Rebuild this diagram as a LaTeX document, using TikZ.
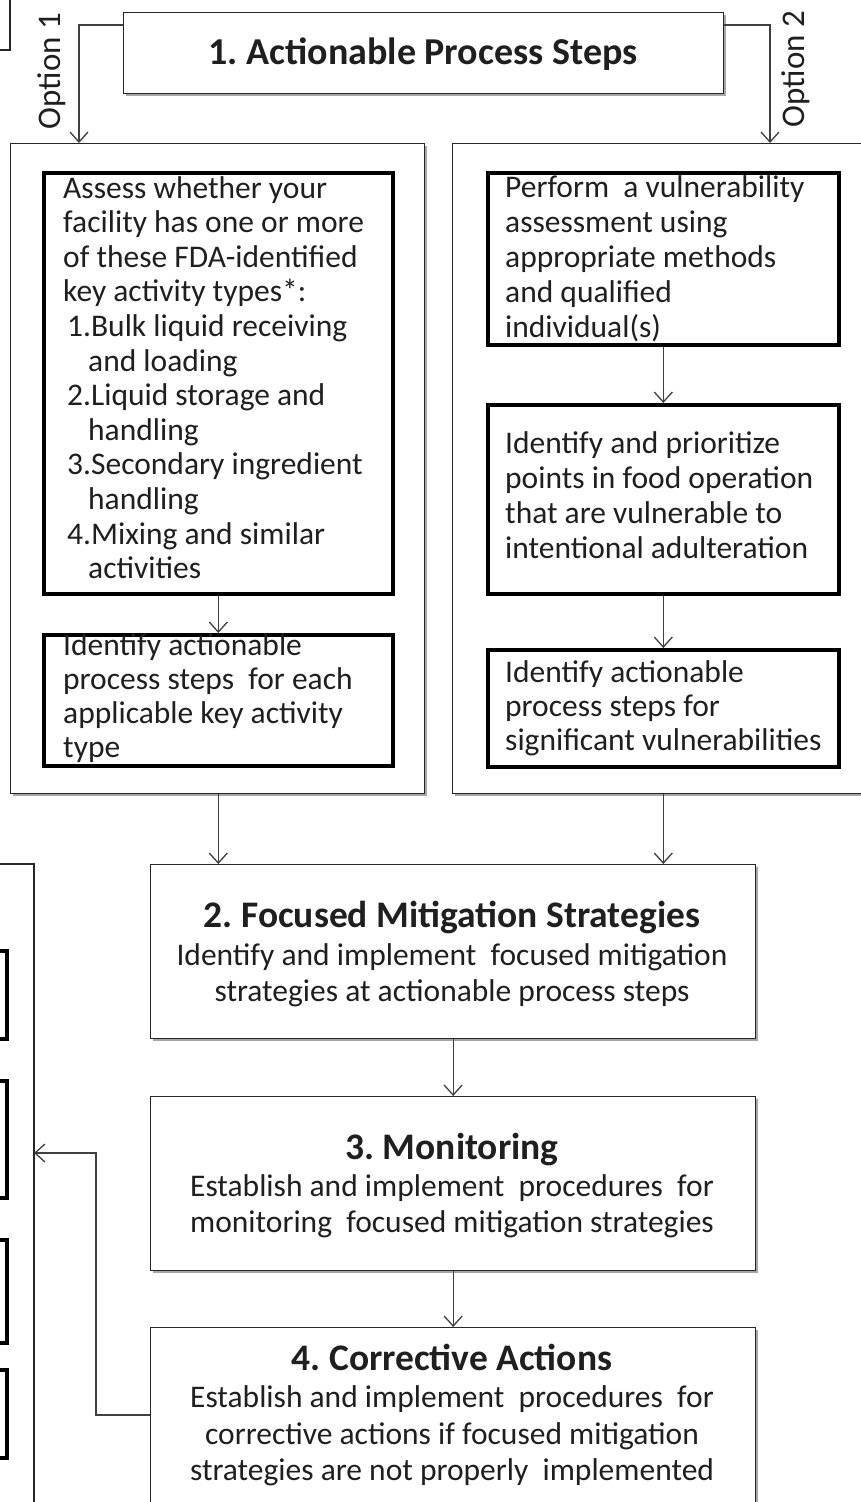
\documentclass[tikz,border=0pt]{standalone}
\usepackage{fontspec}
\setmainfont{Carlito}
\usetikzlibrary{arrows.meta,shadows}
\frenchspacing
\begin{document}
\begin{tikzpicture}[x=1pt,y=-1pt,
  thinbox/.style={draw=black!85,line width=1.3pt,fill=white,inner sep=0pt,anchor=north west,
     drop shadow={shadow xshift=2.5pt,shadow yshift=-2.5pt,fill=black,opacity=0.35}},
  thickbox/.style={draw=black,line width=3.6pt,fill=white,inner sep=0pt,anchor=north west},
  conn/.style={draw=black!75,line width=1.3pt},
  arr/.style={conn,-{Straight Barb[length=10pt,width=18pt,line width=1.3pt]}},
  body/.style={inner sep=0pt,anchor=base west,text=black!88},
  ctext/.style={inner sep=0pt,anchor=base,text=black!88},
]
\def\bodyfont{\fontsize{31.5}{34.6}\selectfont}
\def\headfont{\fontsize{37.5}{38}\selectfont\bfseries}
\useasboundingbox (0,0) rectangle (860,1502);
\fill[white] (0,0) rectangle (860,1502);

% partial top-left box
\draw[conn,black!85] (0,50) -- (10,50) -- (10,0);

% title
\node[thinbox,minimum width=600pt,minimum height=81pt] (title) at (123,12) {};
\node[ctext] (titletxt) at (423,64) {\fontsize{38}{40}\selectfont\bfseries 1. Actionable Process Steps};

% option labels
\node[rotate=90,inner sep=0pt,text=black!88] (opt1) at (52,71) {\fontsize{33}{36}\selectfont Option 1};
\node[rotate=90,inner sep=0pt,text=black!88] (opt2) at (796,69) {\fontsize{33}{36}\selectfont Option 2};

% outer boxes
\node[thinbox,minimum width=414pt,minimum height=650pt] (lout) at (10,143) {};
\node[thinbox,minimum width=420pt,minimum height=650pt] (rout) at (452,143) {};

% option connectors
\coordinate (o1) at (79,25);
\coordinate (o2) at (770,25);
\draw[arr] (title.west |- o1) -- (o1) -- (lout.north -| o1);
\draw[arr] (title.east |- o2) -- (o2) -- (rout.north -| o2);

% left inner boxes
\node[thickbox,minimum width=349pt,minimum height=421pt] (boxA) at (42,171) {};
\node[thickbox,minimum width=349pt,minimum height=131pt] (boxB) at (42,633) {};
\node[body] (txtA) at (63,198) {\parbox[t]{330pt}{\bodyfont
Assess whether your\\
facility has one or more\\
of these FDA-identified\\
key activity types*:\\
\hspace*{4pt}1.Bulk liquid receiving\\
\hspace*{25pt}and loading\\
\hspace*{4pt}2.Liquid storage and\\
\hspace*{25pt}handling\\
\hspace*{4pt}3.Secondary ingredient\\
\hspace*{25pt}handling\\
\hspace*{4pt}4.Mixing and similar\\
\hspace*{25pt}activities}};
\node[body] (txtB) at (63,655) {\parbox[t]{330pt}{\fontsize{31.5}{34.3}\selectfont
Identify actionable\\
process steps\ \ for each\\
applicable key activity\\
type}};
\draw[arr] (boxA.south) -- (boxB.north);

% right inner boxes
\node[thickbox,minimum width=351pt,minimum height=172pt] (boxC) at (486,171) {};
\node[thickbox,minimum width=351pt,minimum height=189pt] (boxD) at (486,403) {};
\node[thickbox,minimum width=351pt,minimum height=117pt] (boxE) at (486,648) {};
\node[body] (txtC) at (505,197) {\parbox[t]{330pt}{\fontsize{31.5}{35}\selectfont
Perform\ \ a vulnerability\\
assessment using\\
appropriate methods\\
and qualified\\
individual(s)}};
\node[body] (txtD) at (505,453) {\parbox[t]{330pt}{\fontsize{31.5}{35}\selectfont
Identify and prioritize\\
points in food operation\\
that are vulnerable to\\
intentional adulteration}};
\node[body] (txtE) at (505,682) {\parbox[t]{340pt}{\fontsize{31.5}{34}\selectfont
Identify actionable\\
process steps for\\
significant vulnerabilities}};
\draw[arr] (boxC.south) -- (boxD.north);
\draw[arr] (boxD.south) -- (boxE.north);

% main steps
\node[thinbox,minimum width=605pt,minimum height=174pt] (focus) at (150,864) {};
\node[thinbox,minimum width=605pt,minimum height=174pt] (monit) at (150,1096) {};
\node[thinbox,minimum width=605pt,minimum height=180pt] (corr) at (150,1327) {};

\node[ctext] (focustxt) at (452,927) {\parbox[t]{600pt}{\centering
{\headfont 2. Focused Mitigation Strategies}\\[2pt]
\fontsize{31.5}{36}\selectfont Identify and implement\ \ focused mitigation\\
strategies at actionable process steps}};
\node[ctext] (monittxt) at (452,1159) {\parbox[t]{600pt}{\centering
{\headfont 3. Monitoring}\\[2pt]
\fontsize{31.5}{35.5}\selectfont Establish and implement\ \ procedures\ \ for\\
monitoring\ \ focused mitigation strategies}};
\node[ctext] (corrtxt) at (452,1370) {\parbox[t]{600pt}{\centering
{\headfont 4. Corrective Actions}\\[1pt]
\fontsize{31.5}{36.5}\selectfont Establish and implement\ \ procedures\ \ for\\
corrective actions if focused mitigation\\
strategies are not properly\ \ implemented}};

\draw[arr] (lout.south -| boxA.south) -- (focus.north -| boxA.south);
\draw[arr] (rout.south -| boxC.south) -- (focus.north -| boxC.south);
\draw[arr] (focus.south) -- (monit.north);
\draw[arr] (monit.south) -- (corr.north);

% partial bottom-left box
\draw[conn,black!85] (0,864) -- (34,864) -- (34,1502);
\coordinate (lbEdge) at (34,1153);
\draw[black,line width=3.6pt] (0,951) -- (7,951) -- (7,1039) -- (0,1039);
\draw[black,line width=3.6pt] (0,1081) -- (7,1081) -- (7,1198) -- (0,1198);
\draw[black,line width=3.6pt] (0,1240) -- (7,1240) -- (7,1343) -- (0,1343);
\draw[black,line width=3.6pt] (0,1370) -- (7,1370) -- (7,1458) -- (0,1458);

% feedback connector
\coordinate (fb) at (96,1415);
\draw[arr] (corr.west |- fb) -- (fb) -- (fb |- lbEdge) -- (lbEdge);
\end{tikzpicture}
\end{document}
